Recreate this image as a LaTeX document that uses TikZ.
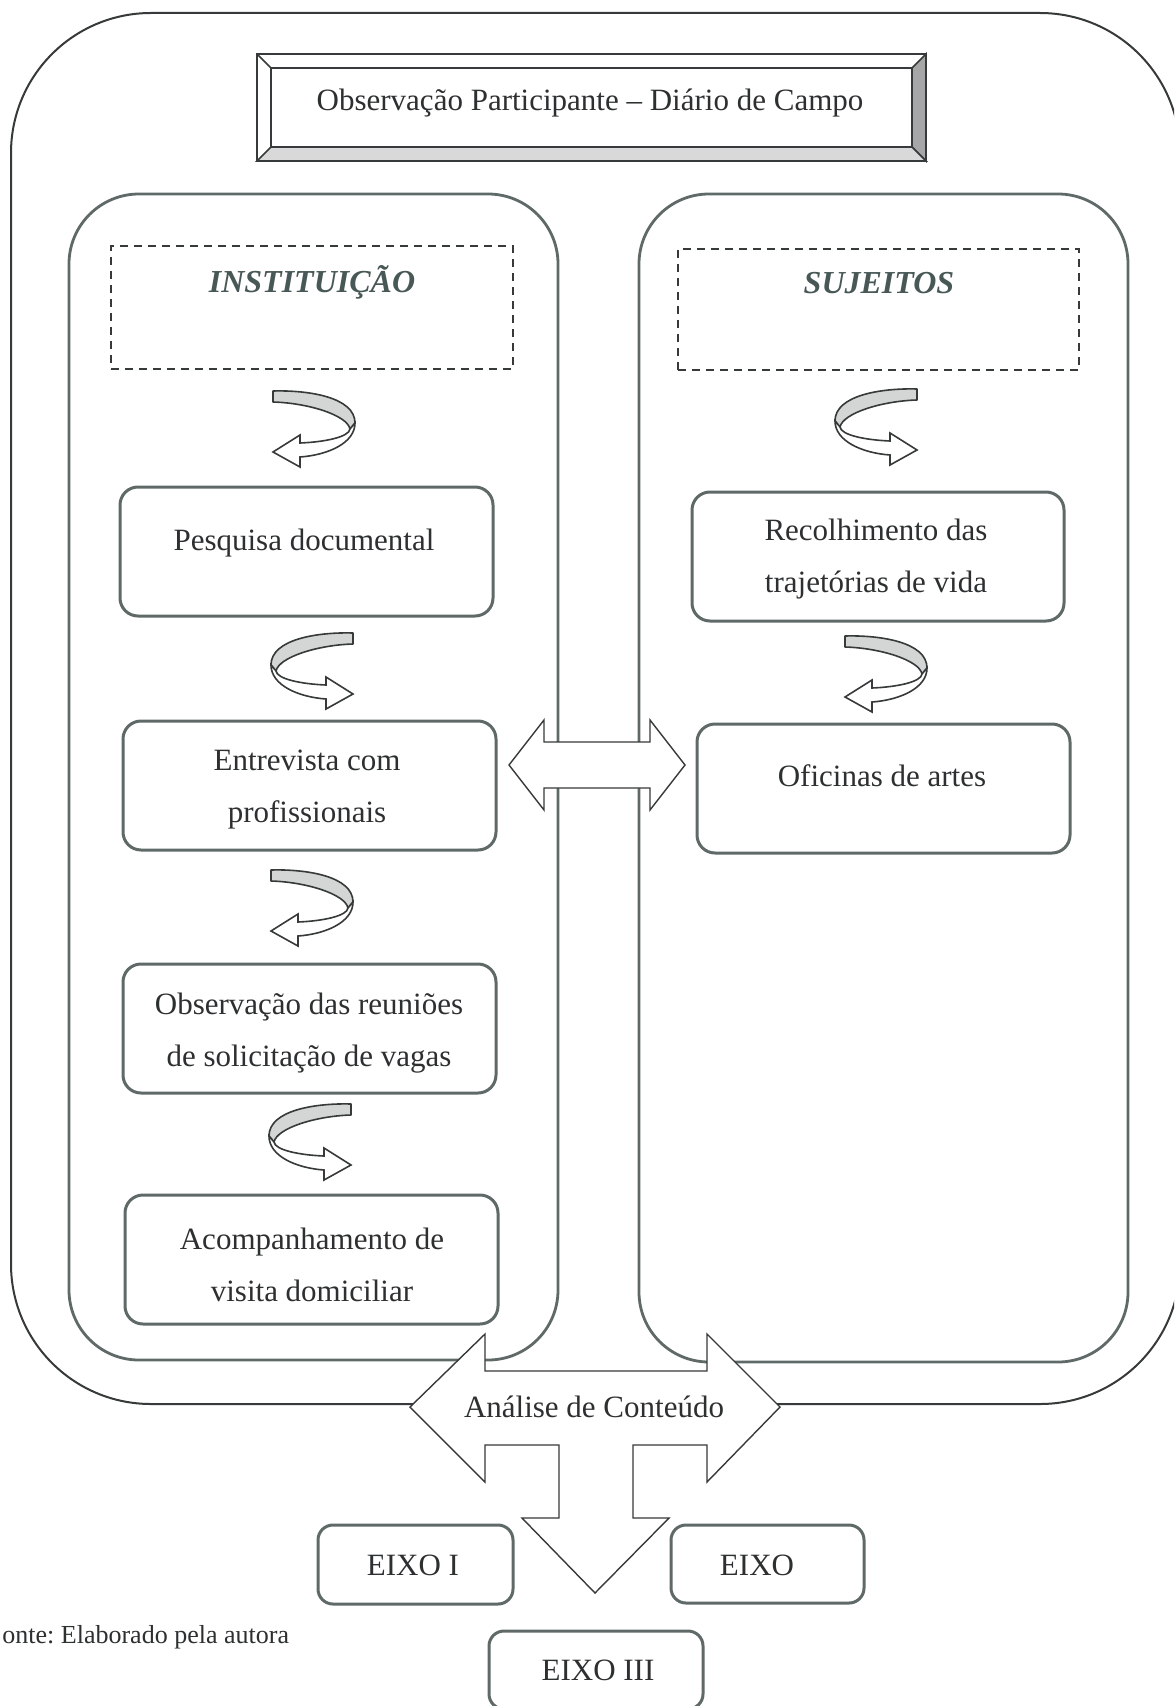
\documentclass[tikz,border=0pt]{standalone}
\usepackage{fontspec}
\setmainfont{Liberation Serif}
\frenchspacing
\definecolor{bx}{RGB}{95,105,103}
\definecolor{ln}{RGB}{55,58,58}
\definecolor{txtc}{RGB}{45,48,48}
\definecolor{hand}{RGB}{72,88,86}
\definecolor{band}{RGB}{212,214,214}
\tikzset{
  txt/.style={font=\fontsize{15.5}{26}\selectfont, align=center, text=txtc, inner sep=0pt},
  tbox/.style={draw=bx, line width=1.5pt, rounded corners=9pt, fill=white, inner sep=0pt, outer sep=0pt},
  ebox/.style={draw=bx, line width=1.5pt, rounded corners=7.5pt, fill=white, inner sep=0pt, outer sep=0pt},
  colbox/.style={draw=bx, line width=1.4pt, rounded corners=35pt, inner sep=0pt, outer sep=0pt},
  dbox/.style={draw=ln, line width=0.75pt, dash pattern=on 4pt off 3pt, inner sep=0pt, outer sep=0pt},
  handtxt/.style={font=\fontsize{16}{18}\selectfont\bfseries\itshape, text=hand, inner sep=0pt},
  bigarrow/.style={draw=ln, line width=0.7pt, fill=white, line join=miter},
  uarrow/.pic={
    \filldraw[fill=band, draw=ln, line width=0.8pt, line join=round]
      (0,0) .. controls (35,-1) and (82,6) .. (82,32) -- (77,38)
      .. controls (74,24) and (35,12) .. (0,11) -- cycle;
    \filldraw[fill=white, draw=ln, line width=0.8pt, line join=miter]
      (82,32) .. controls (82,52) and (55,64) .. (27,66) -- (27,76) -- (0,61)
      -- (27,44) -- (27,52) .. controls (52,51) and (76,46) .. (77,38) -- cycle;
  }
}
\begin{document}
\begin{tikzpicture}[x=0.5pt, y=-0.5pt]
\useasboundingbox (0,0) rectangle (1174,1706);
\clip (0,0) rectangle (1174,1706);
\fill[white] (0,0) rectangle (1174,1706);

% outer frame
\node[draw=ln, line width=1pt, rounded corners=70pt, minimum width=584.5pt, minimum height=695.5pt, inner sep=0pt] (outer) at (595.5,708.5) {};

% title bevel box
\filldraw[fill=white, draw=ln, line width=0.8pt] (257,54) rectangle (926,161);
\filldraw[fill=gray!70, draw=ln, line width=0.8pt] (912,68) -- (926,54) -- (926,161) -- (912,147) -- cycle;
\filldraw[fill=gray!30, draw=ln, line width=0.8pt] (271,147) -- (912,147) -- (926,161) -- (257,161) -- cycle;
\draw[ln, line width=0.8pt] (257,54) -- (271,68) (271,68) rectangle (912,147);
\node[txt] (title) at (590,103) {Observação Participante – Diário de Campo};

% columns
\node[colbox, minimum width=244.5pt, minimum height=583pt] (colL) at (313.5,777) {};
\node[colbox, minimum width=244.5pt, minimum height=584pt] (colR) at (883.5,778) {};

% dashed headers
\node[dbox, minimum width=201pt, minimum height=61.5pt] (dI) at (312,307.5) {};
\node[handtxt] (tI) at (312,282) {INSTITUIÇÃO};
\node[dbox, minimum width=200.5pt, minimum height=60.5pt] (dS) at (878.5,309.5) {};
\node[handtxt] (tS) at (879,283) {SUJEITOS};

% left column boxes
\node[tbox, minimum width=186.5pt, minimum height=64.5pt] (b1) at (306.5,551.5) {};
\node[txt] (t1) at (304,543) {Pesquisa documental};
\node[tbox, minimum width=186.5pt, minimum height=64.5pt] (b2) at (309.5,785.5) {};
\node[txt] (t2) at (307,790) {Entrevista com\\profissionais};
\node[tbox, minimum width=186.5pt, minimum height=64.5pt] (b3) at (309.5,1028.5) {};
\node[txt] (t3) at (309,1033) {Observação das reuniões\\de solicitação de vagas};
\node[tbox, minimum width=186.5pt, minimum height=64.5pt] (b4) at (311.5,1259.5) {};
\node[txt] (t4) at (312,1265) {Acompanhamento de\\visita domiciliar};

% right column boxes
\node[tbox, minimum width=186pt, minimum height=64.5pt] (b5) at (878,556.5) {};
\node[txt] (t5) at (876,559) {Recolhimento das\\trajetórias de vida};
\node[tbox, minimum width=186.5pt, minimum height=64.5pt] (b6) at (883.5,788.5) {};
\node[txt] (t6) at (882,776) {Oficinas de artes};

% U-turn arrows
\pic at (273,391) {uarrow};
\pic[xscale=-1] at (353,633) {uarrow};
\pic at (271,870) {uarrow};
\pic[xscale=-1] at (351,1104) {uarrow};
\pic[xscale=-1] at (917,389) {uarrow};
\pic at (845,636) {uarrow};

% double arrow between columns
\draw[bigarrow] (509,765) -- (544,720) -- (544,742) -- (650,742) -- (650,720) -- (685,765)
  -- (650,810) -- (650,788) -- (544,788) -- (544,810) -- cycle;

% Analise arrow
\draw[bigarrow] (410,1407) -- (485,1334) -- (485,1371) -- (707,1371) -- (707,1334) -- (780,1407)
  -- (707,1482) -- (707,1445) -- (633,1445) -- (633,1518) -- (669,1518) -- (595,1593)
  -- (522,1518) -- (559,1518) -- (559,1445) -- (485,1445) -- (485,1482) -- cycle;
\node[txt] (ac) at (594,1407) {Análise de Conteúdo};

% EIXO boxes
\node[ebox, minimum width=97.5pt, minimum height=39.5pt] (e1) at (415.5,1564.5) {};
\node[txt] (te1) at (413,1565) {EIXO I};
\node[ebox, minimum width=96.5pt, minimum height=39pt] (e2) at (767.5,1564) {};
\node[txt] (te2) at (757,1565) {EIXO};
\node[ebox, minimum width=107pt, minimum height=39pt] (e3) at (596,1670) {};
\node[txt] (te3) at (598,1670) {EIXO III};

% source
\node[txt, anchor=west, font=\fontsize{13}{15}\selectfont] (fonte) at (2,1637) {onte: Elaborado pela autora};
\end{tikzpicture}
\end{document}
